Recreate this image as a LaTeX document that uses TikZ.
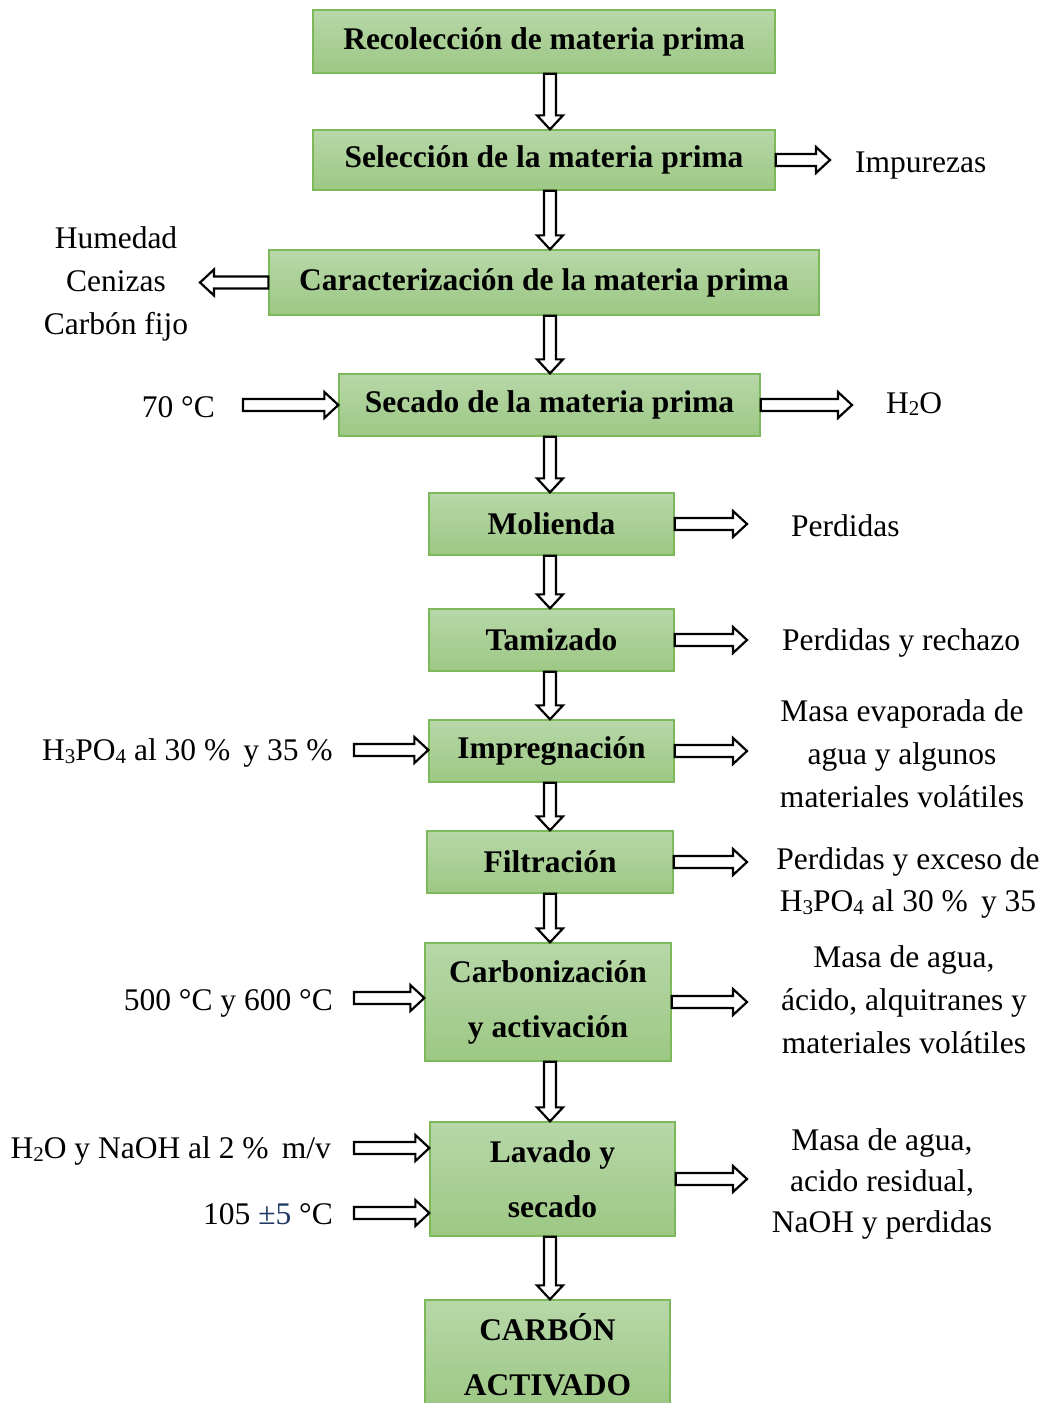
\documentclass[tikz,border=0pt]{standalone}
\usepackage{fontspec}
\setmainfont{Liberation Serif}
\usetikzlibrary{calc,shadings}

\definecolor{boxtop}{RGB}{183,215,168}
\definecolor{boxbot}{RGB}{157,200,132}
\definecolor{boxline}{RGB}{125,184,90}
\definecolor{pmblue}{RGB}{31,56,100}

% small chemical subscript, only slightly lowered
\newcommand\lowsub[1]{\raisebox{-0.08em}{\fontsize{21}{21}\selectfont #1}}

% hollow block arrows: shaft half-width, head half-width, head length
\def\fsw{6pt}
\def\fhw{13pt}
\def\fhl{14pt}

% downward block arrow between two stacked boxes, on the common axis
\newcommand\darr[2]{\draw[fat] let \p1=(#1.south), \p2=(#2.north), \p3=(spine) in
  (\x3-\fsw,\y1) -- (\x3-\fsw,\y2+\fhl) -- (\x3-\fhw,\y2+\fhl) -- (\x3,\y2)
  -- (\x3+\fhw,\y2+\fhl) -- (\x3+\fsw,\y2+\fhl) -- (\x3+\fsw,\y1) -- cycle;}
% rightward block arrow, at the height of the start point
\newcommand\rarr[2]{\draw[fat] let \p1=#1, \p2=#2 in
  (\x1,\y1-\fsw) -- (\x2-\fhl,\y1-\fsw) -- (\x2-\fhl,\y1-\fhw) -- (\x2,\y1)
  -- (\x2-\fhl,\y1+\fhw) -- (\x2-\fhl,\y1+\fsw) -- (\x1,\y1+\fsw) -- cycle;}
% leftward block arrow, at the height of the start point
\newcommand\larr[2]{\draw[fat] let \p1=#1, \p2=#2 in
  (\x1,\y1-\fsw) -- (\x2+\fhl,\y1-\fsw) -- (\x2+\fhl,\y1-\fhw) -- (\x2,\y1)
  -- (\x2+\fhl,\y1+\fhw) -- (\x2+\fhl,\y1+\fsw) -- (\x1,\y1+\fsw) -- cycle;}

\tikzset{
  fat/.style={draw=black, fill=white, line width=2.2pt, line join=miter},
  stage/.style={draw=boxline, line width=1.3pt, top color=boxtop, bottom color=boxbot,
    inner sep=0pt, align=center, font=\bfseries\fontsize{31.5}{55}\selectfont},
  note/.style={inner sep=0pt, align=center, font=\fontsize{31.5}{43}\selectfont},
  line note/.style={note, yshift=-3pt},
}

\begin{document}
\begin{tikzpicture}[x=1pt, y=-1pt]
\useasboundingbox (0,0) rectangle (1048,1403);
\coordinate (spine) at (550,0);

% process stages
\node[stage, minimum width=462pt, minimum height=63pt] (b1) at (544,41.5) {Recolección de materia prima};
\node[stage, minimum width=462pt, minimum height=60pt] (b2) at (544,160) {Selección de la materia prima};
\node[stage, minimum width=550pt, minimum height=65pt] (b3) at (544,282.5) {Caracterización de la materia prima};
\node[stage, minimum width=421pt, minimum height=62pt] (b4) at (549.5,405) {Secado de la materia prima};
\node[stage, minimum width=245pt, minimum height=62pt] (b5) at (551.5,524) {Molienda};
\node[stage, minimum width=245pt, minimum height=62pt] (b6) at (551.5,640) {Tamizado};
\node[stage, minimum width=245pt, minimum height=62pt] (b7) at (551.5,751) {Impregnación};
\node[stage, minimum width=246pt, minimum height=62pt] (b8) at (550,862) {Filtración};
\node[stage, minimum width=246pt, minimum height=118pt] (b9) at (548,1002) {Carbonización\\y activación};
\node[stage, minimum width=245pt, minimum height=114pt] (b10) at (552.5,1179) {Lavado y\\secado};
\node[stage, minimum width=245pt, minimum height=110pt] (b11) at (547.5,1355) {CARBÓN\\ACTIVADO};

% main flow
\darr{b1}{b2}
\darr{b2}{b3}
\darr{b3}{b4}
\darr{b4}{b5}
\darr{b5}{b6}
\darr{b6}{b7}
\darr{b7}{b8}
\darr{b8}{b9}
\darr{b9}{b10}
\darr{b10}{b11}

% arrow ends
\coordinate (o2) at (830,162);
\coordinate (o3) at (200,281);
\coordinate (o4) at (852,405);
\coordinate (o5) at (747,523);
\coordinate (o6) at (747,640);
\coordinate (o7) at (747,750);
\coordinate (o8) at (747,861);
\coordinate (o9) at (747,998);
\coordinate (o10) at (747,1181);
\coordinate (i4) at (243,405);
\coordinate (i7) at (354,750);
\coordinate (i9) at (354,998);
\coordinate (i10a) at (354,1148);
\coordinate (i10b) at (354,1213);

% outputs
\rarr{(b2.east)}{(o2)}
\larr{(b3.west)}{(o3)}
\rarr{(b4.east)}{(o4)}
\rarr{(b5.east)}{(o5)}
\rarr{(b6.east)}{(o6)}
\rarr{(b7.east)}{(o7)}
\rarr{(b8.east)}{(o8)}
\rarr{(b9.east)}{(o9)}
\rarr{(b10.east)}{(o10)}

% inputs
\rarr{(i4)}{(b4.west)}
\rarr{(i7)}{(b7.west)}
\rarr{(i9)}{(b9.west)}
\rarr{(i10a)}{(i10a -| b10.west)}
\rarr{(i10b)}{(i10b -| b10.west)}

% labels
\node[line note, anchor=west] (t2) at (855,163) {Impurezas};
\node[note] (t3) at (116,284) {Humedad\\Cenizas\\Carbón fijo};
\node[line note, anchor=east] (t4a) at (215,404) {70 °C};
\node[line note, anchor=west] (t4b) at (886,401) {H\lowsub{2}O};
\node[line note, anchor=west] (t5) at (791,523) {Perdidas};
\node[line note, anchor=west] (t6) at (782,640) {Perdidas y rechazo};
\node[line note, anchor=west] (t7a) at (42,750) {H\lowsub{3}PO\lowsub{4} al 30 \%\, y 35 \%};
\node[note] (t7b) at (902,754) {Masa evaporada de\\agua y algunos\\materiales volátiles};
\node[note, font=\fontsize{31.5}{42}\selectfont] (t8) at (908,883) {Perdidas y exceso de\\H\lowsub{3}PO\lowsub{4} al 30 \%\, y 35};
\node[line note, anchor=east] (t9a) at (333,1000) {500 °C y 600 °C};
\node[note] (t9b) at (904,1000) {Masa de agua,\\ácido, alquitranes y\\materiales volátiles};
\node[line note, anchor=east] (t10a) at (331,1148) {H\lowsub{2}O y NaOH al 2 \%\, m/v};
\node[line note, anchor=east] (t10b) at (333,1211) {105 {\color{pmblue}±5} °C};
\node[note, font=\fontsize{31.5}{41}\selectfont] (t10c) at (882,1184) {Masa de agua,\\acido residual,\\NaOH y perdidas};
\end{tikzpicture}
\end{document}
